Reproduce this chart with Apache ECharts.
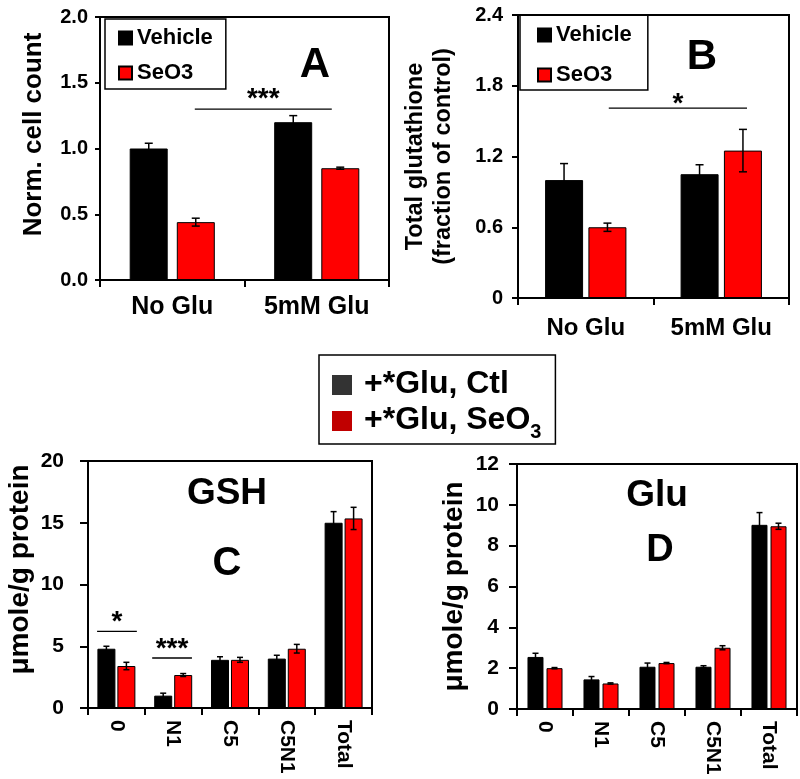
<!DOCTYPE html>
<html>
<head>
<meta charset="utf-8">
<script src="https://cdn.jsdelivr.net/npm/echarts@6/dist/echarts.min.js"></script>
<style>html,body{margin:0;padding:0;background:#fff}#c{width:800px;height:779px}</style>
</head>
<body>
<div id="c"></div>
<script>
// ---------- data ----------
const catsAB = ['No Glu', '5mM Glu'];
const vehA = [1.0, 1.2];
const vehAErr = [0.04, 0.05];
const seA = [0.44, 0.85];
const seAErr = [0.03, 0.008];

const vehB = [1.0, 1.05];
const vehBErr = [0.14, 0.08];
const seB = [0.6, 1.25];
const seBErr = [0.035, 0.18];

const catsCD = ['0', 'N1', 'C5', 'C5N1', 'Total'];
const ctlC = [4.8, 1.0, 3.9, 4.0, 15.0];
const ctlCErr = [0.2, 0.2, 0.25, 0.27, 0.9];
const seC = [3.4, 2.67, 3.9, 4.8, 15.35];
const seCErr = [0.3, 0.12, 0.2, 0.35, 0.9];

const ctlD = [2.55, 1.45, 2.07, 2.07, 9.02];
const ctlDErr = [0.18, 0.14, 0.18, 0.05, 0.6];
const seD = [2.0, 1.25, 2.25, 3.0, 8.95];
const seDErr = [0.03, 0.03, 0.03, 0.1, 0.15];

// significance brackets: [fromCat, fromFrac, toCat, toFrac, yValue]
const sigA = [[0, 0.156, 1, 0.104, 1.3]];
const sigAText = ['***'];
const sigB = [[0, 0.17, 1, 0.19, 1.61]];
const sigBText = ['*'];
const sigC = [[0, -0.34, 0, 0.36, 6.2], [1, -0.37, 1, 0.33, 4.05]];
const sigCText = ['*', '***'];

const yTicksA = {min: 0, max: 2, interval: 0.5};
const yTicksB = {min: 0, max: 2.4, interval: 0.6};
const yTicksC = {min: 0, max: 20, interval: 5};
const yTicksD = {min: 0, max: 12, interval: 2};

// ---------- helpers ----------
const FF = 'Liberation Sans, Arial, sans-serif';
const BLACK = '#000';
const RED = '#ff0000';

function errRender(offset, cap) {
  return function (params, api) {
    const i = api.value(0), v = api.value(1), e = api.value(2);
    const top = api.coord([i, v + e]);
    const bot = api.coord([i, v - e]);
    const x = top[0] + offset;
    const st = {stroke: BLACK, lineWidth: 1.5};
    return {type: 'group', children: [
      {type: 'line', shape: {x1: x, y1: top[1], x2: x, y2: bot[1]}, style: st},
      {type: 'line', shape: {x1: x - cap, y1: top[1], x2: x + cap, y2: top[1]}, style: st},
      {type: 'line', shape: {x1: x - cap, y1: bot[1], x2: x + cap, y2: bot[1]}, style: st}
    ]};
  };
}
function errSeries(vals, errs, idx, offset, cap) {
  return {type: 'custom', xAxisIndex: idx, yAxisIndex: idx, z: 5, silent: true,
    renderItem: errRender(offset, cap),
    data: vals.map((v, i) => [i, v, errs[i]])};
}
function sigSeries(arr, texts, idx, fs, lift) {
  return {type: 'custom', xAxisIndex: idx, yAxisIndex: idx, z: 6, silent: true,
    renderItem: function (params, api) {
      const band = api.size([1, 0])[0];
      const p1 = api.coord([api.value(0), api.value(4)]);
      const p2 = api.coord([api.value(2), api.value(4)]);
      const x1 = p1[0] + api.value(1) * band;
      const x2 = p2[0] + api.value(3) * band;
      return {type: 'group', children: [
        {type: 'line', shape: {x1: x1, y1: p1[1], x2: x2, y2: p1[1]}, style: {stroke: BLACK, lineWidth: 1.3}},
        {type: 'text', style: {text: texts[params.dataIndex], x: (x1 + x2) / 2, y: p1[1] - lift,
          textAlign: 'center', textVerticalAlign: 'middle', font: 'bold ' + fs + 'px ' + FF, fill: BLACK}}
      ]};
    },
    data: arr};
}
function barSeries(name, vals, idx, color, width, gap) {
  return {type: 'bar', name: name, xAxisIndex: idx, yAxisIndex: idx, data: vals,
    barWidth: width, barGap: gap, z: 2,
    itemStyle: {color: color, borderColor: BLACK, borderWidth: 1}};
}
function xAxis(idx, data, fs, margin, rotate) {
  return {type: 'category', gridIndex: idx, data: data,
    axisLine: {lineStyle: {color: BLACK, width: 2}},
    axisTick: {show: true, length: 7, lineStyle: {color: BLACK, width: 2}},
    axisLabel: {color: BLACK, fontSize: fs, fontWeight: 'bold', fontFamily: FF, margin: margin, rotate: rotate || 0},
    splitLine: {show: false}};
}
function yAxis(idx, t, fs, margin, tickLen, fmt, name, nameFs, nameGap, namePad) {
  return {type: 'value', gridIndex: idx, min: t.min, max: t.max, interval: t.interval,
    axisLine: {show: true, lineStyle: {color: BLACK, width: 2}},
    axisTick: {show: true, length: tickLen, lineStyle: {color: BLACK, width: 2}},
    splitLine: {show: false},
    axisLabel: {color: BLACK, fontSize: fs, fontWeight: 'bold', fontFamily: FF, margin: margin, formatter: fmt},
    name: name, nameLocation: 'middle', nameRotate: 90, nameGap: nameGap,
    nameTextStyle: {color: BLACK, fontSize: nameFs, fontWeight: 'bold', fontFamily: FF, lineHeight: nameFs * 1.2, padding: namePad || 0}};
}
function boxText(text, x, y, fs) {
  return {type: 'text', x: x, y: y, silent: true,
    style: {text: text, textAlign: 'center', textVerticalAlign: 'middle', font: 'bold ' + fs + 'px ' + FF, fill: BLACK}};
}

const gridStyle = {show: true, borderColor: BLACK, borderWidth: 2, backgroundColor: 'transparent', containLabel: false};

const option = {
  animation: false,
  backgroundColor: '#fff',
  textStyle: {fontFamily: FF},
  grid: [
    Object.assign({left: 100, top: 17, width: 289, height: 263}, gridStyle),
    Object.assign({left: 518, top: 15, width: 271, height: 283}, gridStyle),
    Object.assign({left: 88, top: 461, width: 284, height: 247}, gridStyle),
    Object.assign({left: 517, top: 464, width: 280, height: 245}, gridStyle)
  ],
  xAxis: [
    xAxis(0, catsAB, 25, 15),
    xAxis(1, catsAB, 24, 18),
    xAxis(2, catsCD, 21, 12, -90),
    xAxis(3, catsCD, 21, 12, -90)
  ],
  yAxis: [
    yAxis(0, yTicksA, 20, 12, 5, v => v.toFixed(1), 'Norm. cell count', 26, 51, [0, 0, 0, 28]),
    yAxis(1, yTicksB, 20, 15, 6, v => v === 0 ? '0' : v.toFixed(1), 'Total glutathione\n(fraction of control)', 23.5, 60),
    yAxis(2, yTicksC, 21, 24, 8, v => String(v), 'μmole/g protein', 28, 51, [0, 0, 0, 30]),
    yAxis(3, yTicksD, 21, 18, 8, v => String(v), 'μmole/g protein', 28, 46)
  ],
  legend: [
    {orient: 'vertical', left: 105, top: 19, padding: [7, 13, 4, 13], itemGap: 11,
      itemWidth: 13, itemHeight: 13, icon: 'rect', borderColor: BLACK, borderWidth: 1.5,
      data: ['Vehicle', 'SeO3'], selectedMode: false,
      textStyle: {fontSize: 22, fontWeight: 'bold', color: BLACK, fontFamily: FF, lineHeight: 24}},
    {orient: 'vertical', left: 520, top: 15, padding: [8, 16, 3, 17], itemGap: 16,
      itemWidth: 13, itemHeight: 13, icon: 'rect', borderColor: BLACK, borderWidth: 1.5,
      data: ['Vehicle', 'SeO3'], selectedMode: false,
      textStyle: {fontSize: 22, fontWeight: 'bold', color: BLACK, fontFamily: FF, lineHeight: 24}},
    {orient: 'vertical', left: 319, top: 355, padding: [13, 14, 2, 13], itemGap: 4,
      itemWidth: 20, itemHeight: 20, icon: 'rect', borderColor: BLACK, borderWidth: 1.5,
      selectedMode: false,
      data: [
        {name: '+*Glu, Ctl', itemStyle: {color: '#333333', borderWidth: 0}},
        {name: '+*Glu, SeO3', itemStyle: {color: '#c00000', borderWidth: 0}}
      ],
      formatter: n => n === '+*Glu, SeO3' ? '{m|+*Glu, SeO}{s|3}' : '{m|' + n + '}',
      textStyle: {color: BLACK, fontFamily: FF, rich: {
        m: {fontSize: 32, fontWeight: 'bold', fontFamily: FF, lineHeight: 34, verticalAlign: 'top', color: BLACK, padding: [0, 0, 0, 7]},
        s: {fontSize: 20, fontWeight: 'bold', fontFamily: FF, lineHeight: 20, verticalAlign: 'top', color: BLACK, padding: [18, 0, 0, 0]}
      }}}
  ],
  graphic: [
    boxText('A', 315, 65, 42),
    boxText('B', 702, 57, 42),
    boxText('GSH', 227, 494, 37),
    boxText('C', 227, 564, 40),
    boxText('Glu', 657, 496, 37),
    boxText('D', 660, 551, 38)
  ],
  series: [
    barSeries('Vehicle', vehA, 0, BLACK, 38, '24%'),
    barSeries('SeO3', seA, 0, RED, 38, '24%'),
    errSeries(vehA, vehAErr, 0, -23.5, 4),
    errSeries(seA, seAErr, 0, 23.5, 4),
    sigSeries(sigA, sigAText, 0, 28, 10),

    barSeries('Vehicle', vehB, 1, BLACK, 38, '14%'),
    barSeries('SeO3', seB, 1, RED, 38, '14%'),
    errSeries(vehB, vehBErr, 1, -21.7, 4),
    errSeries(seB, seBErr, 1, 21.7, 4),
    sigSeries(sigB, sigBText, 1, 28, 4),

    barSeries('+*Glu, Ctl', ctlC, 2, BLACK, 18, '11%'),
    barSeries('+*Glu, SeO3', seC, 2, RED, 18, '11%'),
    errSeries(ctlC, ctlCErr, 2, -10, 3),
    errSeries(seC, seCErr, 2, 10, 3),
    sigSeries(sigC, sigCText, 2, 28, 9),

    barSeries('+*Glu, Ctl', ctlD, 3, BLACK, 16, '19%'),
    barSeries('+*Glu, SeO3', seD, 3, RED, 16, '19%'),
    errSeries(ctlD, ctlDErr, 3, -9.5, 3),
    errSeries(seD, seDErr, 3, 9.5, 3)
  ]
};

const chart = echarts.init(document.getElementById('c'), null, {renderer: 'canvas'});
chart.setOption(option);
</script>
</body>
</html>
